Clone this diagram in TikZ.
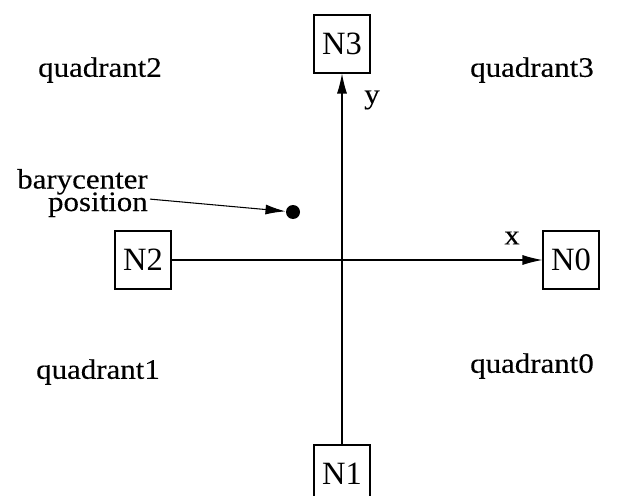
\documentclass[tikz,border=0pt]{standalone}
\usepackage{fontspec}
\setmainfont{Liberation Serif}
\newfontfamily\widefont{Liberation Serif}[FakeStretch = 1.1, FakeBold = 0.2]
\usetikzlibrary{arrows.meta}

\newcommand{\baryfont}{\widefont\fontsize{16}{12.8}\selectfont\lineskiplimit=-20pt\relax}

\tikzset{
	nodebox/.style = {draw, minimum width = 1.12cm, minimum height = 1.16cm, inner sep = 0pt, font = \fontsize{18.5}{20}\selectfont},
	quadtext/.style = {font = \widefont\fontsize{16}{18}\selectfont},
}

\begin{document}
\begin{tikzpicture}[scale = 1, line width = 0.6pt, >={Latex[length = 4mm, width = 2mm]}]
	\useasboundingbox (-6.84, -4.7) rectangle (5.7, 5.2);
	
	% the four nodes round the origin
	\node[nodebox] (N0) at (4.58, 0) {N0};
	\node[nodebox] (N1) at (0, -4.28) {N1};
	\node[nodebox] (N2) at (-3.98, 0) {N2};
	\node[nodebox] (N3) at (0, 4.32) {N3};
	
	% axes
	\draw[->] (N2) -- (N0);
	\draw[->] (N1) -- (N3);
	\node[quadtext] (xlab) at (3.4, 0.44) {x};
	\node[quadtext] (ylab) at (0.6, 3.2) {y};
	
	% quadrants
	\node[quadtext] (q0) at (3.8, -2.12) {quadrant0};
	\node[quadtext] (q1) at (-4.88, -2.24) {quadrant1};
	\node[quadtext] (q2) at (-4.84, 3.8) {quadrant2};
	\node[quadtext] (q3) at (3.8, 3.8) {quadrant3};
	
	% barycenter
	\node[circle, fill, minimum size = 0.28cm, inner sep = 0pt] (dot) at (-0.98, 0.96) {};
	\node[anchor = east, align = right, inner sep = 1pt, font = \baryfont] (bary) at (-3.84, 1.34) {barycenter\\position};
	\draw[->] (bary) -- (dot);
\end{tikzpicture}
\end{document}
